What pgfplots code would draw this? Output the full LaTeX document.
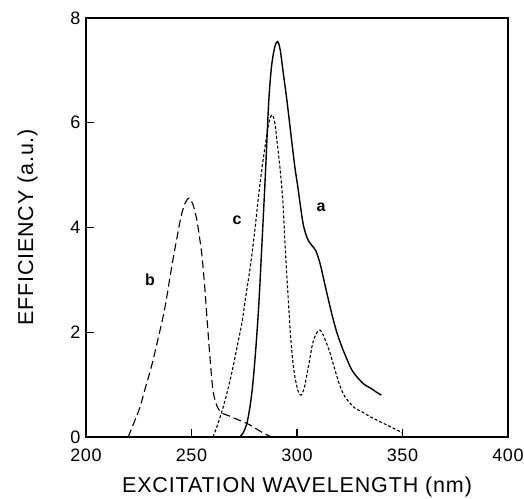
\documentclass[border=0pt]{standalone}
\usepackage{fontspec}
\setmainfont{Liberation Sans}
\usepackage{pgfplots}
\pgfplotsset{compat=1.18}

% curve a: solid
\pgfplotstableread{
x y
272.8 0
274.5 0.08
276.3 0.27
277.8 0.6
279.1 1.03
280.6 1.75
282.0 2.6
283.4 3.7
285.0 5.0
286.6 6.4
288.0 7.1
289.5 7.45
290.8 7.55
292.0 7.4
293.5 6.95
295.3 6.4
297.2 5.75
299.0 5.15
300.3 4.8
301.5 4.45
303.0 4.05
305.0 3.78
307.0 3.66
309.0 3.55
311.0 3.3
313.0 2.95
315.0 2.6
317.0 2.27
319.0 1.98
321.3 1.72
323.5 1.5
326.0 1.28
329.0 1.12
332.0 1.0
335.0 0.93
337.5 0.86
340.0 0.8
}\curvea

% curve b: long dashes
\pgfplotstableread{
x y
220.0 0
222.0 0.2
224.0 0.4
225.6 0.57
228.0 0.92
230.0 1.2
231.8 1.47
234.0 1.85
236.5 2.29
238.2 2.65
239.8 3.05
241.5 3.45
243.1 3.8
245.0 4.2
246.8 4.45
248.8 4.56
250.6 4.45
252.5 4.15
254.0 3.76
255.0 3.45
256.2 2.9
257.3 2.29
258.6 1.6
260.0 0.95
261.3 0.68
262.8 0.53
264.3 0.46
268.0 0.4
272.0 0.33
277.7 0.23
283.4 0.09
288.0 0
}\curveb

% curve c: short dashes
\pgfplotstableread{
x y
260.2 0
262.5 0.25
265.0 0.57
267.5 0.95
269.7 1.34
272.0 1.8
274.0 2.2
275.6 2.65
277.5 3.15
279.0 3.6
280.3 4.05
281.5 4.5
283.3 5.1
285.8 5.8
287.0 6.05
288.2 6.15
289.5 6.0
290.8 5.55
291.9 5.15
293.3 4.5
294.3 3.7
295.3 3.0
296.2 2.4
297.0 1.9
298.0 1.45
299.0 1.15
300.5 0.88
301.9 0.8
303.5 0.95
305.7 1.41
307.5 1.8
309.5 2.0
311.0 2.04
312.6 1.93
315.2 1.66
317.5 1.35
319.9 1.03
322.0 0.82
324.6 0.67
327.5 0.55
330.8 0.48
335.0 0.38
340.0 0.28
345.0 0.18
350.0 0.08
}\curvec

\begin{document}
\begin{tikzpicture}
\begin{axis}[
    scale only axis,
    width=422pt, height=419pt,
    xmin=200, xmax=400, ymin=0, ymax=8,
    xtick={200,250,...,400},
    ytick={0,2,...,8},
    tick pos=left,
    tick align=inside,
    major tick length=8pt,
    axis line style={line width=1.4pt},
    every tick/.style={line width=1.1pt, black},
    tick label style={font=\fontsize{18}{18}\selectfont\addfontfeature{LetterSpace=4}},
    /pgf/number format/assume math mode=true,
    xticklabel style={yshift=-8pt},
    yticklabel style={xshift=-2pt},
    xlabel={EXCITATION WAVELENGTH (nm)},
    ylabel={EFFICIENCY (a.u.)},
    label style={font=\fontsize{21.5}{21.5}\selectfont\addfontfeature{LetterSpace=4}},
    xlabel style={yshift=-9pt},
    ylabel style={yshift=26pt},
  ]
  \addplot[black, line width=1.4pt, smooth] table {\curvea};
  \addplot[black, line width=1.1pt, smooth, dash pattern=on 8pt off 4pt] table {\curveb};
  \addplot[black, line width=1.1pt, smooth, dash pattern=on 3pt off 2pt] table {\curvec};
  \node[font=\bfseries\fontsize{16}{16}\selectfont] at (axis cs:311.4,4.39) {a};
  \node[font=\bfseries\fontsize{16}{16}\selectfont] at (axis cs:230.3,3.0) {b};
  \node[font=\bfseries\fontsize{16}{16}\selectfont] at (axis cs:271.6,4.14) {c};
\end{axis}
\pgfresetboundingbox
\path[use as bounding box] ([xshift=-86pt,yshift=-62pt]current axis.south west)
  rectangle ([xshift=16pt,yshift=18pt]current axis.north east);
\end{tikzpicture}
\end{document}
